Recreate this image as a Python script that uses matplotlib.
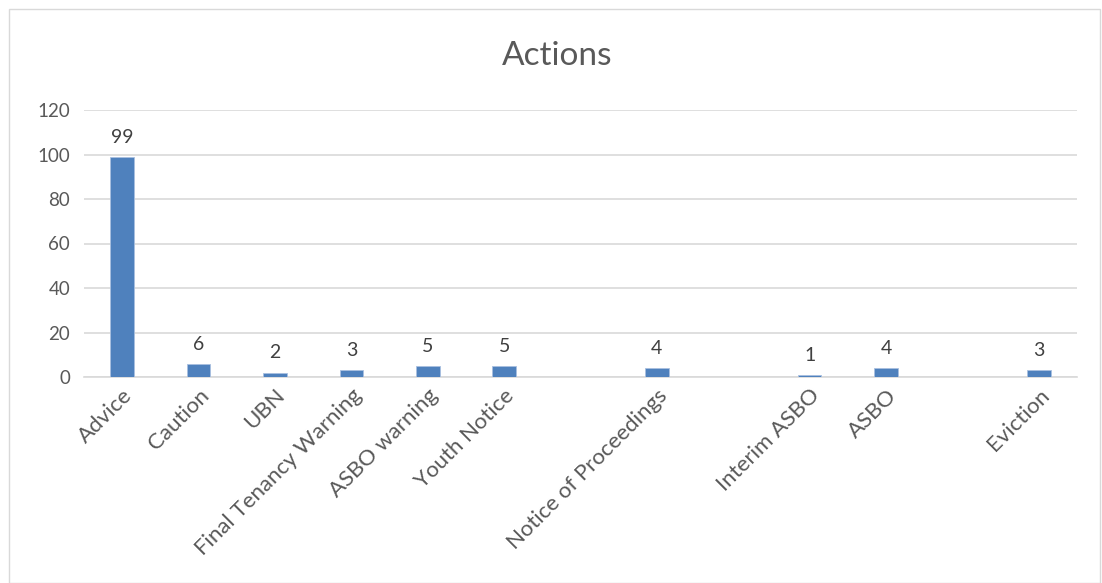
import matplotlib
matplotlib.use("Agg")
import matplotlib.pyplot as plt
from matplotlib.patches import Rectangle

categories = ["Advice", "Caution", "UBN", "Final Tenancy Warning", "ASBO warning",
              "Youth Notice", "", "Notice of Proceedings", "", "Interim ASBO",
              "ASBO", "", "Eviction"]
values = [99, 6, 2, 3, 5, 5, None, 4, None, 1, 4, None, 3]
yticks = [0, 20, 40, 60, 80, 100, 120]

plt.rcParams['font.family'] = ['Lato', 'DejaVu Sans']
txt = '#595959'
bar_color = '#4f81bd'

fig = plt.figure(figsize=(11.02, 5.83), dpi=100)
ax = fig.add_axes([84/1102, 1-377/583, (1077-84)/1102, (377-110)/583])

xs = [i for i, v in enumerate(values) if v is not None]
vs = [v for v in values if v is not None]
bars = ax.bar(xs, vs, width=0.31, color=bar_color, edgecolor='#a9c0e0', linewidth=0.6, zorder=3)
for x, v in zip(xs, vs):
    ax.annotate(str(v), (x, v), xytext=(0, 8), textcoords='offset points',
                ha='center', va='bottom', fontsize=14, color='#404040')

ax.set_xlim(-0.5, len(categories) - 0.5)
ax.set_ylim(0, 120)
ax.set_yticks(yticks)
ax.set_yticklabels([str(t) for t in yticks], fontsize=13.5, color=txt)
ax.set_xticks(range(len(categories)))
ax.set_xticklabels(categories, rotation=45, ha='right', rotation_mode='anchor',
                   fontsize=16, color=txt)
ax.tick_params(axis='y', length=0, pad=10)
ax.tick_params(axis='x', length=0, pad=6)
ax.grid(axis='y', color='#d9d9d9', linewidth=1.2, zorder=0)
for s in ['top', 'right', 'left']:
    ax.spines[s].set_visible(False)
ax.spines['bottom'].set_color('#d9d9d9')
ax.spines['bottom'].set_linewidth(1.2)

fig.text(557/1102, 1-56/583, "Actions", ha='center', va='center', fontsize=24, color=txt)

fig.patches.append(Rectangle((9/1102, 0), (1100-9)/1102, 1-9/583, transform=fig.transFigure,
                             fill=False, edgecolor='#d9d9d9', linewidth=1))

fig.savefig("out.png", dpi=100)
